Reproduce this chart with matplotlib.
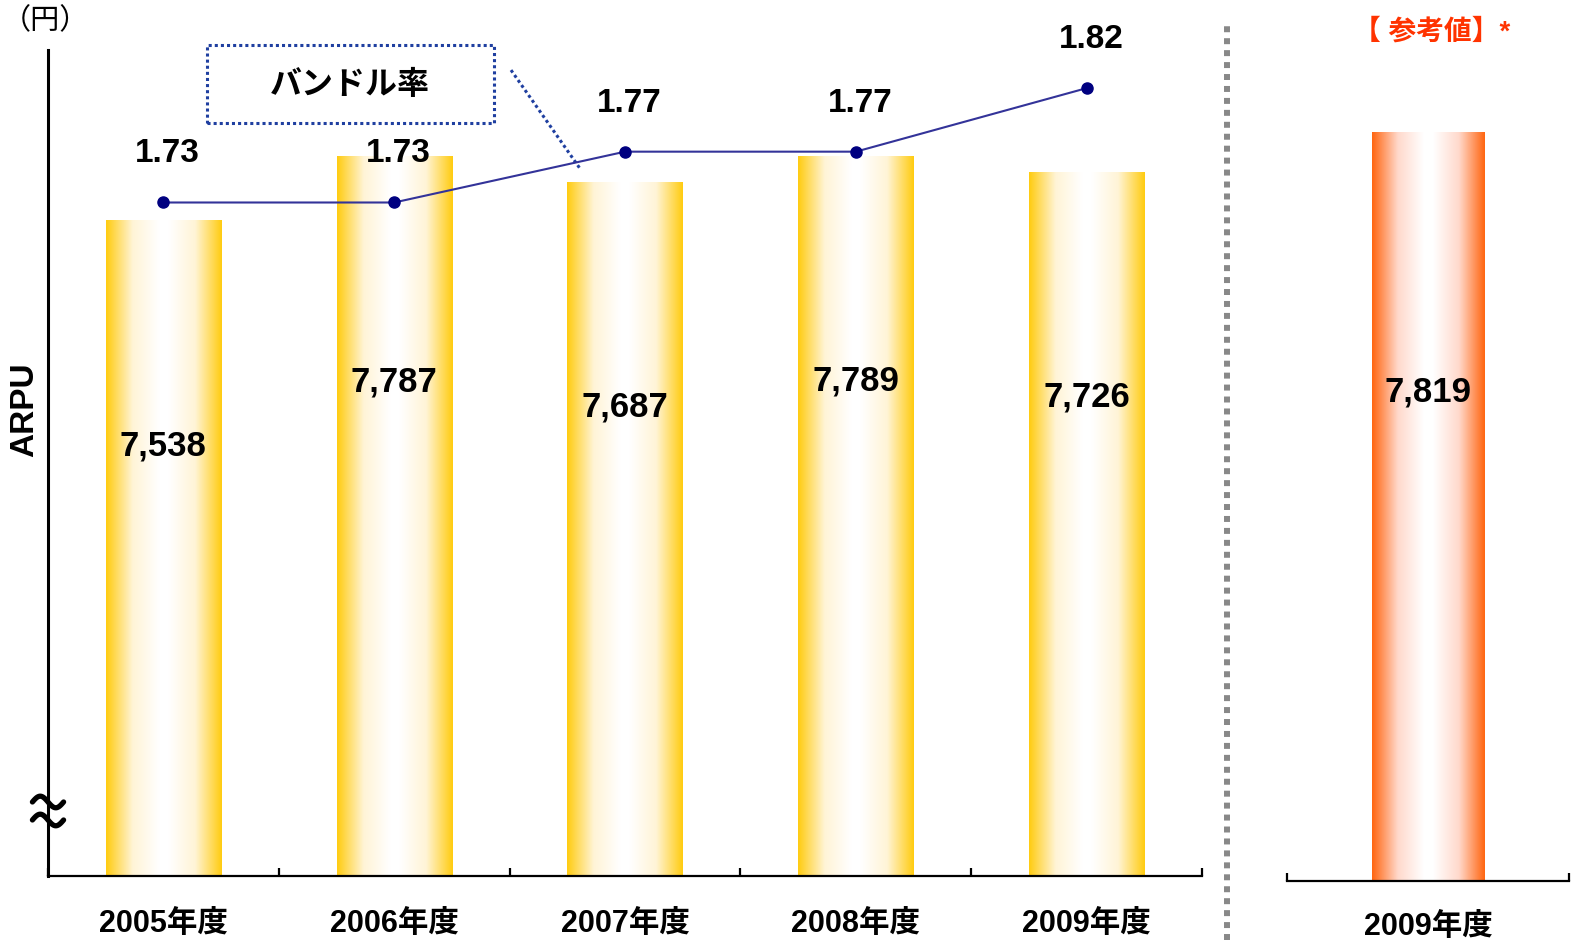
import numpy as np
import matplotlib.pyplot as plt
from matplotlib.colors import LinearSegmentedColormap
from matplotlib.lines import Line2D
from matplotlib.patches import Rectangle

plt.rcParams['font.family'] = ['Liberation Sans', 'Noto Sans CJK JP', 'DejaVu Sans']

# data
years = ['2005年度', '2006年度', '2007年度', '2008年度', '2009年度']
arpu = [7538, 7787, 7687, 7789, 7726]
bundle = [1.73, 1.73, 1.77, 1.77, 1.82]
ref_years = ['2009年度']
ref_arpu = [7819]

yellow = LinearSegmentedColormap.from_list('yel', ['#FFFFFF', '#FFF4D6', '#FFCC11'])
orange = LinearSegmentedColormap.from_list('org', ['#FFFFFF', '#FFD9CC', '#FF6611'])


def gradient_bars(ax, bars, cmap):
    """fill each bar with a horizontal edge -> white -> edge gradient"""
    u = np.linspace(0, 1, 256)
    t = np.clip((np.abs(u - 0.5) * 2 - 0.08) / 0.92, 0, 1)
    grad = t[np.newaxis, :]
    for b in bars:
        x0, y0 = b.get_xy()
        im = ax.imshow(grad, cmap=cmap, vmin=0, vmax=1, aspect='auto',
                       extent=(x0, x0 + b.get_width(), y0, y0 + b.get_height()),
                       zorder=b.get_zorder(), interpolation='bilinear')
        im.set_clip_path(b)
        im.set_clip_box(ax.bbox)
        b.set_facecolor('none')
        b.set_edgecolor('none')


def break_mark(ax, yc):
    # little tilde drawn across the y axis
    s = np.linspace(-1, 1, 60)
    ax.plot(s * 0.0135, yc - 0.007 * np.sin(s * np.pi), transform=ax.transAxes,
            color='black', lw=3.8, clip_on=False, solid_capstyle='round', zorder=6)


fig = plt.figure(figsize=(15.74, 9.4), dpi=100)

# ---- main panel ----
ax = fig.add_axes([0.0305, 0.0681, 0.7332, 0.8787])
x = np.arange(len(years))
bars = ax.bar(x, arpu, width=0.5, zorder=2)
gradient_bars(ax, bars, yellow)
ax.set_xlim(-0.5, len(years) - 0.5)
ax.set_ylim(5000, 8200)

for xi, v in zip(x, arpu):
    ax.annotate(f'{v:,}', (xi, v), xytext=(0, -162), textcoords='offset points',
                ha='center', va='center', fontsize=25, fontweight='bold', zorder=5)

for s in ['top', 'right']:
    ax.spines[s].set_visible(False)
ax.spines['left'].set_linewidth(2.2)
ax.spines['bottom'].set_linewidth(1.6)
ax.set_yticks([])
ax.set_xticks(x)
ax.set_xticklabels(years, fontsize=22, fontweight='bold')
ax.tick_params(axis='x', which='major', length=0, pad=24)
ax.set_xticks(np.arange(-0.5, len(years), 1), minor=True)
ax.tick_params(axis='x', which='minor', direction='in', length=6, width=1.6)

# bundle rate line on its own scale
ax2 = ax.twinx()
ax2.plot(x, bundle, color='#333399', lw=1.5, marker='o', markersize=8,
         markerfacecolor='#000080', markeredgecolor='#000080', zorder=4)
ax2.set_ylim(1.2, 1.85)
ax2.set_yticks([])
for s in ax2.spines.values():
    s.set_visible(False)
for xi, v in zip(x, bundle):
    ax2.annotate(f'{v:.2f}', (xi, v), xytext=(3, 35), textcoords='offset points',
                 ha='center', va='center', fontsize=24, fontweight='bold')

# legend box for the line
ax.add_patch(Rectangle((0.1378, 0.912), 0.2487, 0.094, transform=ax.transAxes,
                       fill=False, ec='#1F3FA0', lw=2.2, ls=(0, (1, 1)), clip_on=False))
ax.text(0.2617, 0.957, 'バンドル率', transform=ax.transAxes, ha='center', va='center',
        fontsize=23, fontweight='bold')
ax.plot([0.4012, 0.4610], [0.9757, 0.8564], transform=ax.transAxes,
        color='#1F3FA0', lw=2.2, ls=(0, (1, 1)), clip_on=False)

# axis break mark
break_mark(ax, 0.0896)
break_mark(ax, 0.0678)

fig.text(0.0159, 0.564, 'ARPU', rotation=90, ha='center', va='center',
         fontsize=24, fontweight='bold')
fig.text(0.029, 0.977, '（円）', ha='center', va='center', fontsize=21)

# ---- reference panel ----
axr = fig.add_axes([0.8177, 0.0628, 0.1792, 0.884])
rbars = axr.bar([0], ref_arpu, width=0.4, zorder=2)
gradient_bars(axr, rbars, orange)
axr.set_xlim(-0.5, 0.5)
axr.set_ylim(5000, 8130)
for v in ref_arpu:
    axr.annotate(f'{v:,}', (0, v), xytext=(0, -187), textcoords='offset points',
                 ha='center', va='center', fontsize=25, fontweight='bold')
for s in ['top', 'right', 'left']:
    axr.spines[s].set_visible(False)
axr.spines['bottom'].set_linewidth(1.6)
axr.set_yticks([])
axr.set_xticks([0])
axr.set_xticklabels(ref_years, fontsize=22, fontweight='bold')
axr.tick_params(axis='x', which='major', length=0, pad=22)
axr.set_xticks([-0.5, 0.5], minor=True)
axr.tick_params(axis='x', which='minor', direction='in', length=6, width=1.6)
fig.text(0.9098, 0.966, '【 参考値】*', ha='center', va='center', fontsize=20,
         fontweight='bold', color='#FF3300')

# dotted separator between panels
fig.add_artist(Line2D([0.7795, 0.7795], [0.0, 0.9755], transform=fig.transFigure,
                      color='#888888', lw=4.3, ls=(0, (1, 1))))

fig.savefig('out.png', dpi=100)
